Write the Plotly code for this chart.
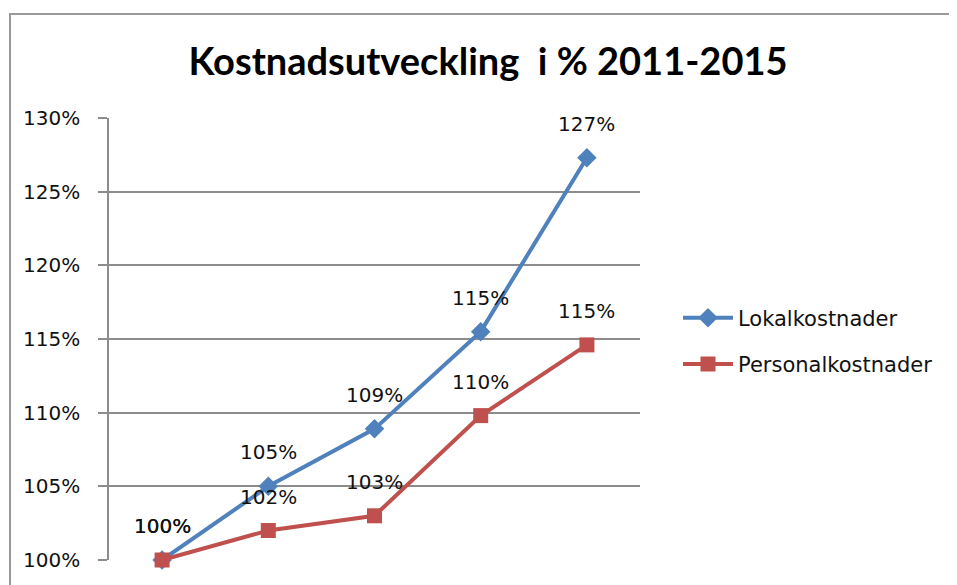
import plotly.graph_objects as go

years = ["2011", "2012", "2013", "2014", "2015"]
lokal = [100.0, 105.0, 108.9, 115.5, 127.3]
personal = [100.0, 102.0, 103.0, 109.8, 114.6]
lokal_labels = ["100%", "105%", "109%", "115%", "127%"]
personal_labels = ["100%", "102%", "103%", "110%", "115%"]
yticks = [100, 105, 110, 115, 120, 125, 130]
ytick_text = ["100%", "105%", "110%", "115%", "120%", "125%", "130%"]

BLUE = "#4F81BD"
RED = "#C0504D"
GRID = "#8C8C8C"
FONT = "DejaVu Sans"

# page is rendered with an 8px body offset; plot area target (window px): x 109..640, y 118..560
OFF = 8
PL, PR, PT, PB = 109 - OFF, 640 - OFF, 118 - OFF, 560 - OFF
PW, PH = PR - PL, PB - PT

fig = go.Figure()
fig.add_trace(go.Scatter(
    x=years, y=lokal, mode="lines+markers", name="Lokalkostnader",
    line=dict(color=BLUE, width=4),
    marker=dict(symbol="diamond", size=15, color=BLUE),
    cliponaxis=False, legendgroup="a"))
fig.add_trace(go.Scatter(
    x=years, y=personal, mode="lines+markers", name="Personalkostnader",
    line=dict(color=RED, width=4),
    marker=dict(symbol="square", size=15, color=RED),
    cliponaxis=False, legendgroup="b"))

for ys, labs in [(lokal, lokal_labels), (personal, personal_labels)]:
    for i, (yv, t) in enumerate(zip(ys, labs)):
        fig.add_annotation(x=i, y=yv, xref="x", yref="y", text=t, showarrow=False,
                           yshift=34, font=dict(family=FONT, size=20, color="#111"))

fig.update_layout(
    width=957, height=585,
    margin=dict(l=PL, r=957 - PR, t=PT, b=585 - PB),
    paper_bgcolor="white", plot_bgcolor="white",
    title=dict(text="<b>Kostnadsutveckling  i % 2011-2015</b>", x=(488 - OFF) / 957, xanchor="center",
               y=1 - (62 - OFF) / 585, yanchor="middle",
               font=dict(family="Lato", size=38, color="black")),
    legend=dict(x=(678 - OFF - PL) / PW, xanchor="left", y=(PB - (341 - OFF)) / PH, yanchor="middle",
                font=dict(family=FONT, size=21, color="#111"), itemwidth=50,
                tracegroupgap=16, traceorder="grouped", bgcolor="rgba(0,0,0,0)"),
    showlegend=True,
)
fig.update_xaxes(type="category", range=[-0.5, 4.5], showticklabels=False,
                 showgrid=False, showline=False, zeroline=False, ticks="")
fig.update_yaxes(range=[100, 130], tickvals=yticks, ticktext=ytick_text,
                 showgrid=True, gridcolor=GRID, gridwidth=1.5,
                 showline=True, linecolor=GRID, linewidth=1.5,
                 ticks="outside", ticklen=9, tickcolor=GRID, tickwidth=1.5,
                 ticklabelstandoff=14, zeroline=False,
                 tickfont=dict(family=FONT, size=20, color="#111"))

fig.add_shape(type="rect", xref="paper", yref="paper",
              x0=(10 - OFF - PL) / PW, x1=2, y0=-0.3, y1=(PB - (14 - OFF)) / PH,
              line=dict(color="#999999", width=2), fillcolor="rgba(0,0,0,0)", layer="below")

fig.write_html("out.html")
